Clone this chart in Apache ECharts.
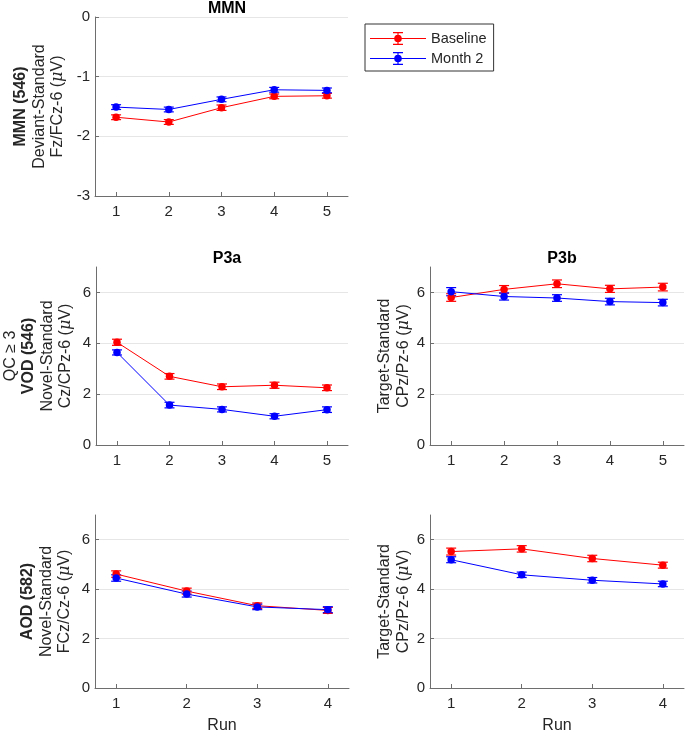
<!doctype html>
<html lang="en">
<head>
    <meta charset="UTF-8" />
    <title>MMN / P3a / P3b</title>
    <script src="https://cdn.jsdelivr.net/npm/echarts@6/dist/echarts.min.js"></script>
    <style>
        body { margin: 0; background: #fff; }
        #main { width: 685px; height: 735px; }
    </style>
</head>
<body>
    <div id="main"></div>
    <script type="text/javascript">
        // runs on the x axis
        var runs5 = [1, 2, 3, 4, 5];
        var runs4 = [1, 2, 3, 4];

        // MMN (546), Deviant-Standard Fz/FCz-6
        var mmnBase = [-1.68, -1.76, -1.52, -1.33, -1.32];
        var mmnBaseErr = [0.04, 0.04, 0.045, 0.04, 0.04];
        var mmnM2 = [-1.51, -1.55, -1.38, -1.22, -1.23];
        var mmnM2Err = [0.04, 0.04, 0.04, 0.04, 0.04];

        // VOD (546), P3a Novel-Standard Cz/CPz-6
        var vodP3aBase = [4.04, 2.70, 2.29, 2.35, 2.25];
        var vodP3aBaseErr = [0.12, 0.11, 0.11, 0.12, 0.11];
        var vodP3aM2 = [3.64, 1.57, 1.40, 1.13, 1.39];
        var vodP3aM2Err = [0.10, 0.11, 0.10, 0.10, 0.11];

        // VOD (546), P3b Target-Standard CPz/Pz-6
        var vodP3bBase = [5.80, 6.12, 6.34, 6.14, 6.21];
        var vodP3bBaseErr = [0.15, 0.15, 0.15, 0.14, 0.15];
        var vodP3bM2 = [6.03, 5.84, 5.78, 5.64, 5.60];
        var vodP3bM2Err = [0.16, 0.14, 0.13, 0.13, 0.13];

        // AOD (582), Novel-Standard FCz/Cz-6
        var aodNovBase = [4.61, 3.92, 3.33, 3.14];
        var aodNovBaseErr = [0.13, 0.12, 0.11, 0.12];
        var aodNovM2 = [4.45, 3.80, 3.28, 3.17];
        var aodNovM2Err = [0.13, 0.12, 0.11, 0.12];

        // AOD (582), Target-Standard CPz/Pz-6
        var aodTgtBase = [5.52, 5.63, 5.24, 4.97];
        var aodTgtBaseErr = [0.14, 0.13, 0.13, 0.12];
        var aodTgtM2 = [5.19, 4.58, 4.36, 4.21];
        var aodTgtM2Err = [0.12, 0.11, 0.11, 0.11];

        var yTicksMmn = [-3, -2, -1, 0];
        var yTicksAmp = [0, 2, 4, 6];

        var RED = '#ff0000';
        var BLUE = '#0000ff';
        var TXT = '#262626';
        var AXIS = '#6e6e6e';
        var FONT = 'Liberation Sans, Arial, Helvetica, sans-serif';

        var chart = echarts.init(document.getElementById('main'));

        var grids = [
            { left: 95, top: 17, width: 253, height: 179 },
            { left: 95, top: 267, width: 253, height: 178 },
            { left: 430, top: 267, width: 254, height: 178 },
            { left: 95, top: 515, width: 254, height: 179 },
            { left: 430, top: 515, width: 254, height: 179 }
        ];

        function xAxisFor(idx, runs, withName) {
            return {
                type: 'value',
                gridIndex: idx,
                min: runs.length === 5 ? 0.6 : 0.7,
                max: runs.length === 5 ? 5.4 : 4.3,
                axisLine: { show: true, onZero: false, lineStyle: { color: AXIS, width: 1 } },
                axisTick: { show: true, inside: true, length: 4, customValues: runs, lineStyle: { color: AXIS } },
                axisLabel: { customValues: runs, color: TXT, fontSize: 15, fontFamily: FONT, margin: 8 },
                splitLine: { show: false },
                name: withName ? 'Run' : '',
                nameLocation: 'middle',
                nameGap: 30,
                nameTextStyle: { color: TXT, fontSize: 16, fontFamily: FONT }
            };
        }

        var nameRich = {
            n: { fontSize: 16, fontFamily: FONT, color: TXT, lineHeight: 18.5 },
            b: { fontSize: 16, fontFamily: FONT, color: TXT, lineHeight: 18.5, fontWeight: 'bold' },
            i: { fontSize: 16, fontFamily: 'DejaVu Serif, serif', color: TXT, lineHeight: 18.5, fontStyle: 'italic' }
        };

        function yAxisFor(idx, min, max, ticks, name, gap) {
            return {
                type: 'value',
                gridIndex: idx,
                min: min,
                max: max,
                axisLine: { show: true, lineStyle: { color: AXIS, width: 1 } },
                axisTick: { show: true, inside: true, length: 4, customValues: ticks, lineStyle: { color: AXIS } },
                axisLabel: { customValues: ticks, color: TXT, fontSize: 15, fontFamily: FONT, margin: 5 },
                splitLine: { show: true, lineStyle: { color: '#e6e6e6', width: 1 } },
                name: name,
                nameLocation: 'middle',
                nameRotate: 90,
                nameGap: gap,
                nameTextStyle: { color: TXT, fontSize: 16, fontFamily: FONT, lineHeight: 18.5, rich: nameRich }
            };
        }

        function pairs(runs, vals) {
            return runs.map(function (r, i) { return [r, vals[i]]; });
        }

        function bars(runs, vals, errs) {
            return runs.map(function (r, i) { return [r, vals[i] - errs[i], vals[i] + errs[i]]; });
        }

        function errorBarItem(color) {
            return function (params, api) {
                var lo = api.coord([api.value(0), api.value(1)]);
                var hi = api.coord([api.value(0), api.value(2)]);
                var w = 5;
                var st = { stroke: color, lineWidth: 1.2 };
                return {
                    type: 'group',
                    children: [
                        { type: 'line', shape: { x1: lo[0], y1: lo[1], x2: hi[0], y2: hi[1] }, style: st },
                        { type: 'line', shape: { x1: lo[0] - w, y1: lo[1], x2: lo[0] + w, y2: lo[1] }, style: st },
                        { type: 'line', shape: { x1: hi[0] - w, y1: hi[1], x2: hi[0] + w, y2: hi[1] }, style: st }
                    ]
                };
            };
        }

        var series = [];
        function addPanel(idx, runs, base, baseErr, m2, m2Err) {
            [[base, baseErr, RED, 'Baseline'], [m2, m2Err, BLUE, 'Month 2']].forEach(function (s) {
                series.push({
                    name: s[3],
                    type: 'line',
                    xAxisIndex: idx,
                    yAxisIndex: idx,
                    data: pairs(runs, s[0]),
                    symbol: 'circle',
                    symbolSize: 7.5,
                    showSymbol: true,
                    itemStyle: { color: s[2] },
                    lineStyle: { color: s[2], width: 1 },
                    emphasis: { disabled: true },
                    animation: false,
                    z: 3
                });
                series.push({
                    name: s[3] + ' SEM',
                    type: 'custom',
                    xAxisIndex: idx,
                    yAxisIndex: idx,
                    data: bars(runs, s[0], s[1]),
                    renderItem: errorBarItem(s[2]),
                    encode: { x: 0, y: [1, 2] },
                    animation: false,
                    z: 3
                });
            });
        }

        addPanel(0, runs5, mmnBase, mmnBaseErr, mmnM2, mmnM2Err);
        addPanel(1, runs5, vodP3aBase, vodP3aBaseErr, vodP3aM2, vodP3aM2Err);
        addPanel(2, runs5, vodP3bBase, vodP3bBaseErr, vodP3bM2, vodP3bM2Err);
        addPanel(3, runs4, aodNovBase, aodNovBaseErr, aodNovM2, aodNovM2Err);
        addPanel(4, runs4, aodTgtBase, aodTgtBaseErr, aodTgtM2, aodTgtM2Err);

        // legend glyph: line, error bar with caps, filled marker
        var legendIcon = 'path://M0,9.5H56V10.5H0Z M27.4,3.5H28.6V16.5H27.4Z M23,3.5H33V4.7H23Z M23,15.3H33V16.5H23Z M24.2,10A3.8,3.8 0 1 1 31.8,10A3.8,3.8 0 1 1 24.2,10Z';

        var titleStyle = { color: '#000', fontSize: 16, fontWeight: 'bold', fontFamily: FONT };

        var option = {
            backgroundColor: '#fff',
            animation: false,
            title: [
                { text: 'MMN', left: 222, top: -4, textAlign: 'center', textStyle: titleStyle },
                { text: 'P3a', left: 222, top: 246, textAlign: 'center', textStyle: titleStyle },
                { text: 'P3b', left: 557, top: 246, textAlign: 'center', textStyle: titleStyle }
            ],
            legend: {
                data: ['Baseline', 'Month 2'],
                orient: 'vertical',
                left: 365,
                top: 24,
                icon: legendIcon,
                itemWidth: 56,
                itemHeight: 20,
                itemGap: 5,
                padding: [7, 7, 5, 5],
                borderColor: '#333',
                borderWidth: 1,
                borderRadius: 0,
                selectedMode: false,
                textStyle: { color: TXT, fontSize: 14.5, fontFamily: FONT }
            },
            grid: grids,
            xAxis: [
                xAxisFor(0, runs5, false),
                xAxisFor(1, runs5, false),
                xAxisFor(2, runs5, false),
                xAxisFor(3, runs4, true),
                xAxisFor(4, runs4, true)
            ],
            yAxis: [
                yAxisFor(0, -3, 0, yTicksMmn,
                    '{b|MMN (546)}\n{n|Deviant-Standard}\n{n|Fz/FCz-6 (}{i|μ}{n|V)}', 28),
                yAxisFor(1, 0, 7, yTicksAmp,
                    '{n|QC ≥ 3}\n{b|VOD (546)}\n{n|Novel-Standard}\n{n|Cz/CPz-6 (}{i|μ}{n|V)}', 21),
                yAxisFor(2, 0, 7, yTicksAmp,
                    '{n|Target-Standard}\n{n|CPz/Pz-6 (}{i|μ}{n|V)}', 17),
                yAxisFor(3, 0, 7, yTicksAmp,
                    '{b|AOD (582)}\n{n|Novel-Standard}\n{n|FCz/Cz-6 (}{i|μ}{n|V)}', 21),
                yAxisFor(4, 0, 7, yTicksAmp,
                    '{n|Target-Standard}\n{n|CPz/Pz-6 (}{i|μ}{n|V)}', 17)
            ],
            series: series
        };

        chart.setOption(option);
    </script>
</body>
</html>
